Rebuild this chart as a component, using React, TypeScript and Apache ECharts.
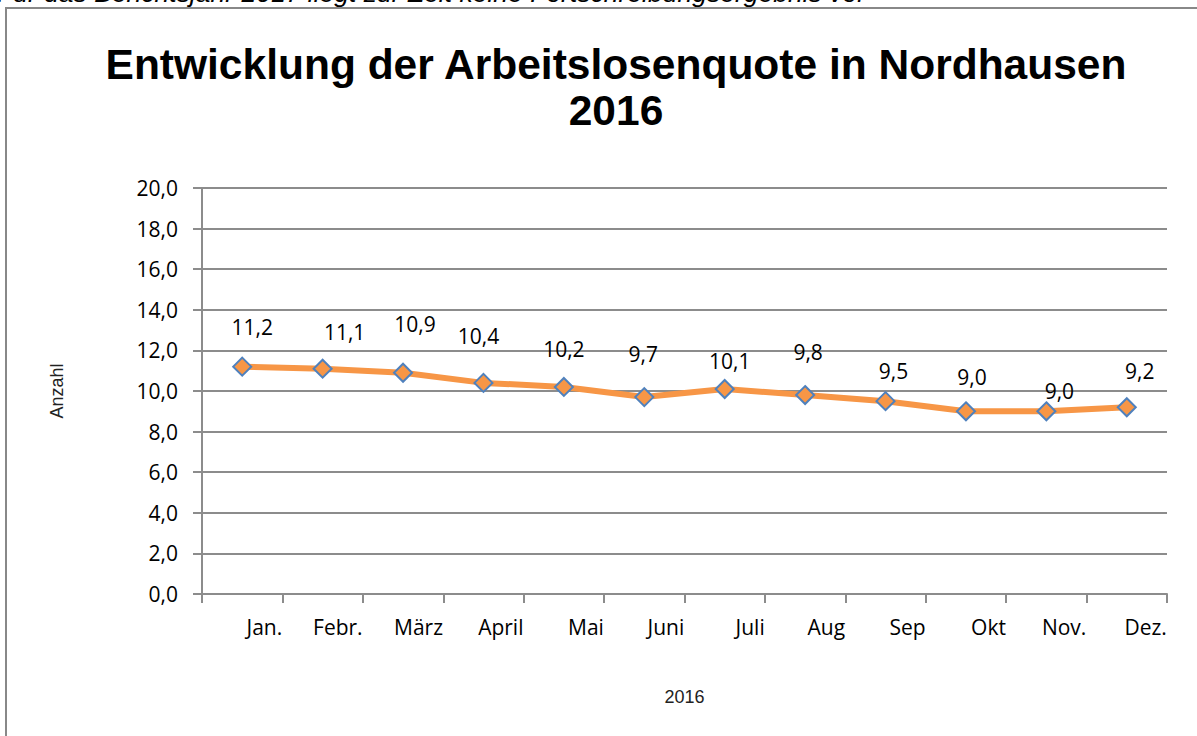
import React, { useEffect, useRef } from "react";
import * as echarts from "echarts";

const months = ["Jan.", "Febr.", "März", "April", "Mai", "Juni", "Juli", "Aug", "Sep", "Okt", "Nov.", "Dez."];
const quote = [11.2, 11.1, 10.9, 10.4, 10.2, 9.7, 10.1, 9.8, 9.5, 9.0, 9.0, 9.2];
const labelOffsets: [number, number][] = [
  [10, -40], [22, -37], [12, -49], [-5, -47], [0, -38], [-1, -43],
  [5, -28], [3, -43], [8, -30], [6, -34], [13, -20], [13, -36],
];
const titleLines = ["Entwicklung der Arbeitslosenquote in Nordhausen", "2016"];
const noteText = "Für das Berichtsjahr 2017 liegt zur Zeit keine Fortschreibungsergebnis vor";
const yName = "Anzahl";
const xName = "2016";

const fmt = (v: number) => v.toFixed(1).replace(".", ",");

export default function App() {
  const ref = useRef<HTMLDivElement>(null);
  useEffect(() => {
    document.body.style.margin = "0";
    const chart = echarts.init(ref.current!, null, { renderer: "svg" });
    const grey = "#8c8c8c";
    const lblFont = "'Open Sans', sans-serif";
    chart.setOption({
      animation: false,
      backgroundColor: "#fff",
      title: {
        text: titleLines.join("\n"),
        left: 611,
        top: 36,
        textAlign: "center",
        textStyle: {
          fontFamily: "'Liberation Sans', Arial, sans-serif",
          fontWeight: "bold",
          fontSize: 42.5,
          lineHeight: 46,
          color: "#000",
        },
      },
      graphic: [
        {
          type: "rect",
          shape: { x: 6, y: 8, width: 1400, height: 900 },
          style: { fill: "none", stroke: "#888", lineWidth: 2 },
          silent: true,
        },
        {
          type: "text",
          x: -3,
          y: 6,
          style: {
            text: noteText,
            fontFamily: "'Liberation Sans', Arial, sans-serif",
            fontStyle: "italic",
            fontSize: 26.5,
            fill: "#000",
            verticalAlign: "bottom",
            lineHeight: 26.5,
          },
          silent: true,
        },
      ],
      grid: { left: 202, right: 30, top: 188, bottom: 142 },
      xAxis: {
        type: "category",
        data: months,
        boundaryGap: true,
        name: xName,
        nameLocation: "middle",
        nameGap: 94,
        nameTextStyle: { fontFamily: "'Liberation Sans', Arial, sans-serif", fontSize: 18, color: "#222" },
        axisLine: { lineStyle: { color: grey, width: 2 } },
        axisTick: { show: true, length: 9, lineStyle: { color: grey, width: 2 } },
        axisLabel: {
          margin: 22,
          formatter: (v: string) => `{a|${v}}`,
          rich: {
            a: { width: 80, align: "right", fontFamily: lblFont, fontSize: 21, color: "#000" },
          },
        },
        splitLine: { show: false },
      },
      yAxis: {
        type: "value",
        min: 0,
        max: 20,
        interval: 2,
        name: yName,
        nameLocation: "middle",
        nameGap: 136,
        nameRotate: 90,
        nameTextStyle: { fontFamily: "'Liberation Sans', Arial, sans-serif", fontSize: 18, color: "#222" },
        axisLine: { show: true, lineStyle: { color: grey, width: 2 } },
        axisTick: { show: true, length: 9, lineStyle: { color: grey, width: 2 } },
        axisLabel: {
          margin: 24,
          formatter: (v: number) => fmt(v),
          fontFamily: lblFont,
          fontSize: 21,
          color: "#000",
        },
        splitLine: { show: true, lineStyle: { color: grey, width: 2 } },
      },
      series: [
        {
          type: "line",
          data: quote.map((v, i) => ({
            value: v,
            label: { offset: labelOffsets[i] },
          })),
          lineStyle: { color: "#F79646", width: 6 },
          itemStyle: { color: "#F79646", borderColor: "#4F81BD", borderWidth: 2 },
          symbol: "diamond",
          symbolSize: 18,
          showAllSymbol: true,
          label: {
            show: true,
            position: "inside",
            formatter: (p: any) => fmt(p.value),
            fontFamily: lblFont,
            fontSize: 21,
            color: "#000",
          },
          z: 3,
        },
      ],
    });
    return () => chart.dispose();
  }, []);
  return <div ref={ref} style={{ position: "absolute", left: 0, top: 0, width: 1197, height: 736 }} />;
}
